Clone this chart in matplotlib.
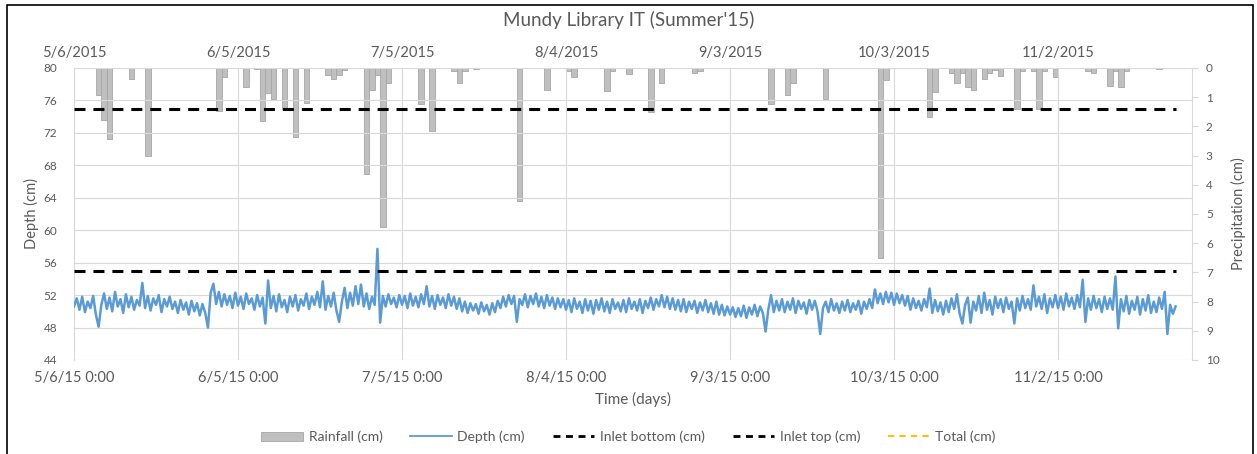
import matplotlib
matplotlib.use("Agg")
import matplotlib.pyplot as plt
from matplotlib.ticker import FuncFormatter, MultipleLocator, FixedLocator
from matplotlib.lines import Line2D
from matplotlib.patches import Patch, Rectangle
import matplotlib.dates as mdates
import numpy as np
import pandas as pd

plt.rcParams["font.family"] = ["Lato", "DejaVu Sans"]

# ---- data -------------------------------------------------------------
start_date = "2015-05-06"

# water depth logged every 12 hours (cm)
depth_cm = [
    50.6, 51.6, 50.2, 51.8, 49.9, 51.2, 50.4, 51.9, 49.6, 48.1, 50.8, 52.2, 50.3, 51.7, 50.0, 52.4, 50.6, 51.5, 49.8, 52.1,
    50.5, 51.8, 50.2, 51.4, 50.7, 53.5, 50.4, 51.9, 50.1, 51.6, 50.8, 52.0, 49.9, 51.5, 50.6, 51.8, 50.3, 51.2, 49.8, 51.4,
    50.2, 51.1, 49.6, 51.3, 50.0, 51.0, 49.5, 50.9, 49.8, 48.0, 52.3, 53.4, 50.9, 52.4, 50.6, 52.1, 50.8, 51.9, 50.4, 52.3,
    50.7, 51.8, 50.3, 52.2, 50.9, 51.6, 50.2, 52.0, 50.6, 51.7, 48.5, 53.8, 50.4, 51.9, 50.0, 52.1, 50.5, 51.4, 49.9, 51.8,
    50.6, 52.0, 50.1, 51.5, 50.7, 52.2, 50.3, 51.8, 50.8, 52.4, 50.5, 53.7, 50.2, 51.9, 50.6, 52.3, 50.1, 48.7, 51.2, 52.9,
    50.4, 52.3, 50.7, 53.1, 50.9, 53.3, 50.6, 52.2, 50.3, 51.8, 50.8, 57.7, 48.6, 51.9, 50.6, 52.1, 50.9, 51.7, 50.5, 52.0,
    50.8, 51.9, 50.4, 52.2, 50.7, 51.8, 50.5, 52.1, 50.9, 53.1, 50.6, 51.9, 50.3, 52.0, 50.8, 51.7, 50.4, 52.1, 50.7, 51.8,
    50.3, 51.6, 50.0, 51.2, 49.8, 51.0, 50.1, 50.9, 49.7, 51.1, 50.0, 50.8, 49.6, 51.0, 49.9, 51.3, 50.4, 51.8, 50.6, 52.0,
    50.9, 51.9, 48.7, 51.5, 50.8, 52.1, 50.5, 51.9, 50.9, 52.2, 50.6, 51.8, 50.4, 52.0, 50.7, 51.7, 50.3, 51.6, 50.5, 51.5,
    50.2, 51.4, 49.9, 51.6, 50.3, 51.2, 49.8, 51.5, 50.1, 51.3, 49.7, 51.4, 50.2, 51.6, 50.0, 51.2, 49.8, 51.5, 50.3, 51.1,
    50.0, 51.4, 49.9, 51.6, 50.3, 51.2, 50.1, 51.5, 49.8, 51.3, 50.4, 51.7, 50.2, 51.5, 50.6, 52.0, 50.5, 51.8, 50.3, 51.6,
    50.2, 51.4, 50.0, 51.5, 49.9, 51.2, 50.3, 51.3, 49.8, 51.1, 50.1, 51.4, 49.9, 51.0, 49.7, 51.2, 49.6, 50.8, 49.5, 50.6,
    49.6, 50.5, 49.3, 50.4, 49.4, 50.7, 49.2, 50.5, 49.6, 50.8, 49.4, 50.6, 49.8, 47.5, 50.2, 52.0, 49.9, 51.3, 50.1, 51.5,
    49.9, 51.2, 50.2, 51.6, 49.8, 51.3, 50.3, 51.1, 49.7, 51.4, 50.2, 51.3, 50.0, 47.2, 50.4, 51.2, 49.9, 51.5, 50.1, 51.0,
    49.8, 51.2, 50.1, 51.4, 49.9, 51.0, 50.2, 51.3, 49.7, 51.2, 50.3, 51.5, 50.4, 52.7, 51.0, 52.2, 50.9, 52.4, 51.1, 52.3,
    50.8, 52.2, 51.0, 52.0, 50.7, 51.9, 50.2, 51.6, 50.4, 51.3, 50.1, 51.5, 50.5, 52.8, 49.8, 51.4, 50.0, 51.1, 49.6, 51.3,
    49.9, 51.6, 50.3, 52.1, 49.7, 48.5, 50.8, 51.7, 48.6, 51.2, 50.1, 51.9, 49.8, 52.3, 50.2, 51.4, 49.6, 51.8, 50.4, 51.5,
    49.9, 51.7, 50.3, 51.2, 48.5, 51.6, 50.1, 51.9, 50.4, 51.5, 50.2, 53.2, 50.6, 51.8, 50.3, 52.1, 49.8, 51.6, 50.5, 52.0,
    50.4, 51.8, 50.2, 52.2, 50.6, 51.7, 50.3, 52.0, 50.5, 53.9, 48.7, 51.6, 50.2, 51.9, 50.4, 51.5, 49.9, 51.8, 50.3, 51.6,
    50.2, 54.3, 47.9, 51.5, 50.0, 51.9, 49.7, 51.3, 50.2, 51.8, 49.6, 51.5, 50.1, 52.0, 49.8, 51.2, 49.9, 51.7, 50.3, 52.4,
    47.2, 50.8, 49.7, 50.6,
]
depth_step_hours = 12

# daily rainfall: day number after the start date, and total (cm)
rain_day = [4, 5, 6, 10, 13, 26, 27, 31, 33, 34, 35, 36, 38, 40, 42,
            46, 47, 48, 49, 53, 54, 55, 56, 57, 63, 65, 69, 70, 71, 73,
            81, 86, 90, 91, 97, 98, 101, 105, 107, 113, 114, 127, 130, 131, 137,
            147, 148, 156, 157, 160, 161, 162, 163, 164, 166, 167, 168, 169, 172, 173,
            175, 176, 177, 179, 185, 186, 189, 190, 191, 192, 198]
rain_cm = [0.94, 1.77, 2.43, 0.37, 3.03, 1.46, 0.32, 0.64, 0.05, 1.83, 0.86, 1.07, 1.40, 2.38, 1.21,
           0.25, 0.37, 0.24, 0.07, 3.63, 0.77, 0.24, 5.43, 0.52, 1.24, 2.17, 0.09, 0.52, 0.09, 0.05,
           4.56, 0.75, 0.10, 0.32, 0.79, 0.09, 0.22, 1.49, 0.52, 0.16, 0.09, 1.24, 0.92, 0.50, 1.06,
           6.50, 0.41, 1.68, 0.81, 0.16, 0.52, 0.16, 0.66, 0.77, 0.37, 0.16, 0.07, 0.26, 1.40, 0.09,
           0.09, 1.40, 0.09, 0.32, 0.09, 0.16, 0.60, 0.09, 0.66, 0.09, 0.05]

inlet_bottom_cm = 55
inlet_top_cm = 75

tick_dates = ["2015-05-06", "2015-06-05", "2015-07-05", "2015-08-04",
              "2015-09-03", "2015-10-03", "2015-11-02"]
axis_end_date = "2015-11-26 12:00"

# ---- derived series ---------------------------------------------------
t0 = pd.Timestamp(start_date)
depth_time = t0 + pd.to_timedelta(np.arange(len(depth_cm)) * depth_step_hours, unit="h")
rain_time = t0 + pd.to_timedelta(np.array(rain_day) + 0.5, unit="D")
ticks = [mdates.date2num(pd.Timestamp(d)) for d in tick_dates]

# ---- styling ----------------------------------------------------------
TXT = "#595959"
GRID = "#D9D9D9"
BLUE = "#5B9BD5"
BAR = "#BFBFBF"
BAR_EDGE = "#A6A6A6"

W, H = 1257, 454
fig = plt.figure(figsize=(W / 100, H / 100), dpi=100)
left, right, top, bottom = 74, 1192, 68, 360
ax = fig.add_axes([left / W, 1 - bottom / H, (right - left) / W, (bottom - top) / H])
ax2 = ax.twinx()

# rainfall bars on the inverted secondary axis
ax2.bar(rain_time, rain_cm, width=1.0, color=BAR, edgecolor=BAR_EDGE, linewidth=0.6)
ax2.set_ylim(10, 0)
ax2.yaxis.set_major_locator(MultipleLocator(1))
ax2.tick_params(axis="y", colors=TXT, labelsize=8.5, length=4, width=0.8, color=GRID, pad=6)
ax2.set_ylabel("Precipitation (cm)", color=TXT, fontsize=10.5, labelpad=8)
for s in ("top", "bottom", "left"):
    ax2.spines[s].set_visible(False)
ax2.spines["right"].set_color(GRID)

# depth and inlet levels drawn above the bars
ax.set_zorder(ax2.get_zorder() + 1)
ax.patch.set_visible(False)
ax.plot(depth_time, depth_cm, color=BLUE, linewidth=1.8, zorder=3)
t_span = [depth_time[0], depth_time[-1]]
ax.plot(t_span, [inlet_bottom_cm] * 2, color="black", linewidth=2.2,
        dashes=(3.6, 2.6), zorder=4)
ax.plot(t_span, [inlet_top_cm] * 2, color="black", linewidth=2.2,
        dashes=(3.6, 2.6), zorder=4)

ax.set_ylim(44, 80)
ax.yaxis.set_major_locator(MultipleLocator(4))
ax.set_xlim(mdates.date2num(t0), mdates.date2num(pd.Timestamp(axis_end_date)))
ax.xaxis.set_major_locator(FixedLocator(ticks))
ax.xaxis.set_major_formatter(FuncFormatter(
    lambda v, p: "{d.month}/{d.day}/{y} 0:00".format(d=mdates.num2date(v), y=mdates.num2date(v).year % 100)))
ax.grid(True, color=GRID, linewidth=0.8, zorder=0)
ax.tick_params(axis="y", colors=TXT, labelsize=8.5, length=0, pad=12)
ax.tick_params(axis="x", colors=TXT, labelsize=10.5, length=0, pad=8)
for s in ("top", "right", "bottom"):
    ax.spines[s].set_visible(False)
ax.spines["left"].set_color(GRID)
ax.set_ylabel("Depth (cm)", color=TXT, fontsize=10.5, labelpad=3)
ax.set_xlabel("Time (days)", color=TXT, fontsize=11, labelpad=5)

# date axis along the top
sec = ax.secondary_xaxis("top")
sec.xaxis.set_major_locator(FixedLocator(ticks))
sec.xaxis.set_major_formatter(FuncFormatter(
    lambda v, p: "{d.month}/{d.day}/{d.year}".format(d=mdates.num2date(v))))
sec.tick_params(axis="x", colors=TXT, labelsize=10.5, length=0, pad=6)
sec.spines["top"].set_visible(False)

fig.text(0.5, 1 - 20 / H, "Mundy Library IT (Summer'15)", ha="center", va="center",
         color=TXT, fontsize=13.5)

handles = [
    Patch(facecolor=BAR, edgecolor=BAR_EDGE, linewidth=0.6),
    Line2D([], [], color=BLUE, linewidth=1.3),
    Line2D([], [], color="black", linewidth=2.0, dashes=(2.5, 2.0)),
    Line2D([], [], color="black", linewidth=2.0, dashes=(2.5, 2.0)),
    Line2D([], [], color="#FFC000", linewidth=1.5, dashes=(3, 2.5)),
]
labels = ["Rainfall (cm)", "Depth (cm)", "Inlet bottom (cm)", "Inlet top (cm)", "Total (cm)"]
leg = fig.legend(handles, labels, loc="center", bbox_to_anchor=(0.5, 1 - 437 / H),
                 ncol=5, frameon=False, fontsize=10, handlelength=3.0,
                 columnspacing=2.0, handletextpad=0.4)
for t in leg.get_texts():
    t.set_color(TXT)

# outer chart frame
fig.patches.append(Rectangle((7 / W, -0.02), (1253 - 7) / W, 1.02 - 5 / H,
                             transform=fig.transFigure, fill=False,
                             edgecolor="black", linewidth=1.2))

fig.savefig("out.png", dpi=100)
